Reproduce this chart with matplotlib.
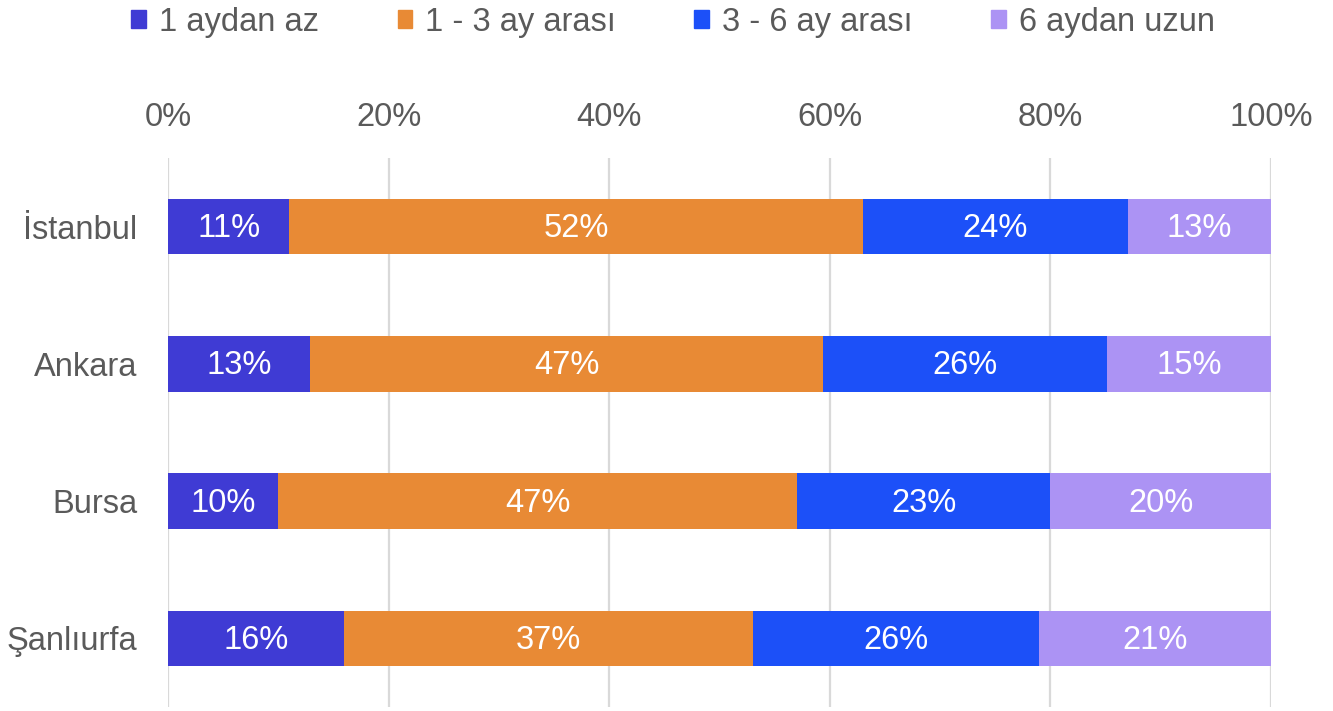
import numpy as np
import matplotlib
matplotlib.use("Agg")
import matplotlib.pyplot as plt
from matplotlib.patches import Patch
from matplotlib.ticker import PercentFormatter

plt.rcParams["font.family"] = ["Liberation Sans", "DejaVu Sans"]

cities = ["İstanbul", "Ankara", "Bursa", "Şanlıurfa"]
series = ["1 aydan az", "1 - 3 ay arası", "3 - 6 ay arası", "6 aydan uzun"]
less_1m = [11, 13, 10, 16]
m1_3 = [52, 47, 47, 37]
m3_6 = [24, 26, 23, 26]
more_6m = [13, 15, 20, 21]
colors = ["#3f3bd4", "#e88a35", "#1c50f8", "#ac93f4"]
text_gray = "#5a5a5a"

values = np.array([less_1m, m1_3, m3_6, more_6m], dtype=float)
shares = values / values.sum(axis=0) * 100  # each city bar fills 100%

fig = plt.figure(figsize=(13.33, 7.11), dpi=100)
ax = fig.add_axes([168 / 1333, 1 - 707 / 711, (1271 - 168) / 1333, (707 - 158) / 711])

y = np.arange(len(cities))
left = np.zeros(len(cities))
for i, name in enumerate(series):
    ax.barh(y, shares[i], left=left, height=0.405, color=colors[i], zorder=3)
    for j in range(len(cities)):
        ax.text(left[j] + shares[i][j] / 2, y[j] + 0.015, f"{values[i][j]:.0f}%",
                ha="center", va="center", color="white", fontsize=23.5, zorder=4)
    left += shares[i]

ax.set_xlim(0, 100)
ax.set_ylim(3.5, -0.5)
ax.set_yticks(y)
ax.set_yticklabels(cities)
ax.set_xticks(np.arange(0, 101, 20))
ax.xaxis.set_major_formatter(PercentFormatter(decimals=0))
ax.xaxis.tick_top()
ax.tick_params(axis="x", length=0, pad=18, labelsize=23.5, labelcolor=text_gray)
ax.tick_params(axis="y", length=0, pad=22, labelsize=23.5, labelcolor=text_gray)
ax.grid(axis="x", color="#d9d9d9", linewidth=1.6, zorder=0)
for s in ax.spines.values():
    s.set_visible(False)

handles = [Patch(color=c, label=n) for c, n in zip(colors, series)]
leg = fig.legend(handles=handles, loc="upper center", bbox_to_anchor=(0.505, 1.032),
                 ncol=4, frameon=False, fontsize=23.5, handlelength=0.45,
                 handleheight=0.45, handletextpad=0.4, columnspacing=2.4)
for t in leg.get_texts():
    t.set_color(text_gray)

fig.savefig("out.png", dpi=100)
